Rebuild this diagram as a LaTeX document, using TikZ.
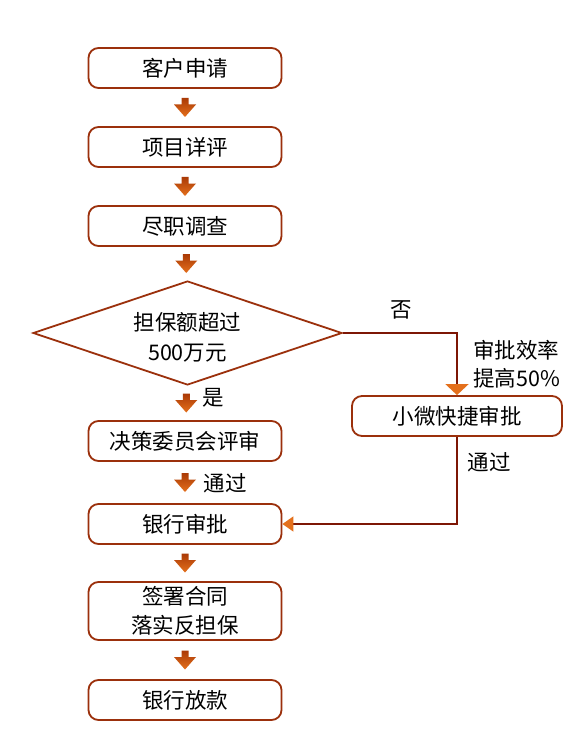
\documentclass[tikz,border=0pt]{standalone}
\usepackage{fontspec}
\setmainfont{Noto Sans CJK SC}
\usetikzlibrary{shapes.geometric,arrows.meta,calc}
\definecolor{boxline}{RGB}{155,48,12}
\definecolor{conn}{RGB}{125,22,5}
\definecolor{arrtop}{RGB}{170,58,6}
\definecolor{arrbot}{RGB}{228,112,28}
\tikzset{
  box/.style={draw=boxline, line width=1.8pt, rounded corners=10pt, minimum width=193pt,
    minimum height=40pt, inner sep=0pt, align=center, font=\fontsize{21.5}{29}\selectfont},
  dia/.style={diamond, draw=boxline, line width=1.8pt, minimum width=309pt, minimum height=104pt,
    inner sep=0pt, aspect=2.97, align=center, font=\fontsize{21.5}{30}\selectfont},
  lbl/.style={inner sep=0pt, font=\fontsize{21.5}{28}\selectfont},
  connline/.style={draw=conn, line width=1.6pt},
  blockfill/.style={top color=arrtop, bottom color=arrbot}
}
\newcommand\lowered[1]{\raisebox{-4pt}[\height][\depth]{#1}}
\newcommand\barrow[2]{\path[blockfill] let \p1=($(#1.south)!0.5!(#2.north)$) in
  (\x1-3.5pt,\y1+9.5pt) -- (\x1+3.5pt,\y1+9.5pt) -- (\x1+3.5pt,\y1+3pt) -- (\x1+11pt,\y1+3pt)
  -- (\x1,\y1-9.5pt) -- (\x1-11pt,\y1+3pt) -- (\x1-3.5pt,\y1+3pt) -- cycle;}
\begin{document}
\begin{tikzpicture}[x=1pt,y=-1pt]
\fill[white] (0,0) rectangle (585,754);
\useasboundingbox (0,0) rectangle (585,754);

\node[box] (n1) at (185,68) {客户申请};
\node[box] (n2) at (185,147) {项目详评};
\node[box] (n3) at (185,226) {尽职调查};
\node[dia] (d) at (187.5,333) {\lowered{担保额超过}\\\lowered{500万元}};
\node[box] (n5) at (185,441) {决策委员会评审};
\node[box] (n6) at (185,524) {银行审批};
\node[box, minimum height=58pt] (n7) at (185,611) {签署合同\\落实反担保};
\node[box] (n8) at (185,700) {银行放款};
\node[box, minimum width=210pt] (xw) at (457,416) {小微快捷审批};

\barrow{n1}{n2}
\barrow{n2}{n3}
\barrow{n3}{d}
\barrow{d}{n5}
\barrow{n5}{n6}
\barrow{n6}{n7}
\barrow{n7}{n8}

\node[lbl] (no) at (401,310) {否};
\node[lbl, anchor=west, align=left] (eff) at (473,364) {审批效率\\提高50\%};
\node[lbl] (yes) at (213,398) {是};
\node[lbl] (pass1) at (225,483) {通过};
\node[lbl] (pass2) at (489,462) {通过};

\draw[connline, -{Triangle[width=23pt,length=11pt,color=arrbot]}] (d.east) -| (xw.north);
\draw[connline, -{Triangle[width=15pt,length=11pt,color=arrbot]}] (xw.south) |- (n6.east);
\end{tikzpicture}
\end{document}
